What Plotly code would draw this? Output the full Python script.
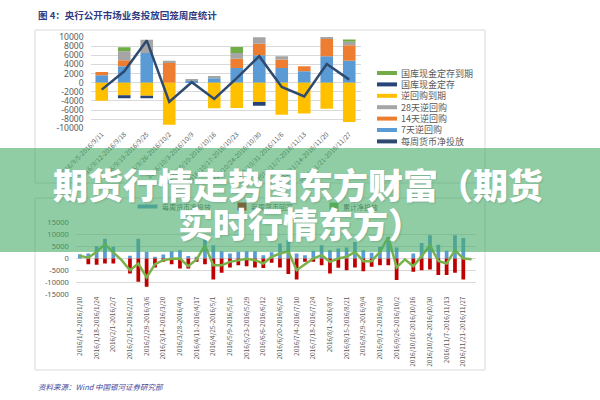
import plotly.graph_objects as go

# ---------------- top chart data ----------------
top_weeks = ["2016/9/5-2016/9/11", "2016/9/12-2016/9/18", "2016/9/19-2016/9/25",
             "2016/9/26-2016/10/2", "2016/10/3-2016/10/9", "2016/10/10-2016/10/16",
             "2016/10/17-2016/10/23", "2016/10/24-2016/10/30", "2016/10/31-2016/11/6",
             "2016/11/7-2016/11/13", "2016/11/14-2016/11/20", "2016/11/21-2016/11/27"]
rr7 = [1600, 3600, 6500, 0, 400, 950, 3200, 6000, 3200, 2500, 5800, 4800]
rr14 = [750, 1300, 0, 4450, 0, 0, 2050, 2500, 1850, 1100, 3800, 3400]
rr28 = [0, 2000, 2900, 350, 300, 500, 1250, 1450, 750, 0, 350, 750]
rr_expire = [-3950, -2770, -2850, -9200, 0, -5600, -5570, -4250, -7030, -6740, -5700, -8640]
tda = [0, -650, -580, 0, 0, 0, 0, -800, 0, 0, 0, 0]
tda_expire = [0, 850, 0, 0, 0, 0, 1300, 0, 0, 0, 0, 500]
top_net = [-1530, 2480, 9250, -4230, 100, -3580, 1000, 5800, -950, -3000, 4100, 660]
top_yticks = [10000, 8000, 6000, 4000, 2000, 0, -2000, -4000, -6000, -8000, -10000]
top_yticklabels = ["10000", "8000", "6000", "4000", "2000", "0", "-2000", "-4000",
                   "-6000", "-8000", "-10000"]

# ---------------- bottom chart data ----------------
weeks = ["2016/1/4-2016/1/10", "2016/1/11-2016/1/17", "2016/1/18-2016/1/24", "2016/1/25-2016/1/31",
         "2016/2/1-2016/2/7", "2016/2/8-2016/2/14", "2016/2/15-2016/2/21", "2016/2/22-2016/2/28",
         "2016/2/29-2016/3/6", "2016/3/7-2016/3/13", "2016/3/14-2016/3/20", "2016/3/21-2016/3/27",
         "2016/3/28-2016/4/3", "2016/4/4-2016/4/10", "2016/4/11-2016/4/17", "2016/4/18-2016/4/24",
         "2016/4/25-2016/5/1", "2016/5/2-2016/5/8", "2016/5/9-2016/5/15", "2016/5/16-2016/5/22",
         "2016/5/23-2016/5/29", "2016/5/30-2016/6/5", "2016/6/6-2016/6/12", "2016/6/13-2016/6/19",
         "2016/6/20-2016/6/26", "2016/6/27-2016/7/3", "2016/7/4-2016/7/10", "2016/7/11-2016/7/17",
         "2016/7/18-2016/7/24", "2016/7/25-2016/7/31", "2016/8/1-2016/8/7", "2016/8/8-2016/8/14",
         "2016/8/15-2016/8/21", "2016/8/22-2016/8/28", "2016/8/29-2016/9/4", "2016/9/5-2016/9/11",
         "2016/9/12-2016/9/18", "2016/9/19-2016/9/25", "2016/9/26-2016/10/2", "2016/10/3-2016/10/9",
         "2016/10/10-2016/10/16", "2016/10/17-2016/10/23", "2016/10/24-2016/10/30", "2016/10/31-2016/11/6",
         "2016/11/7-2016/11/13", "2016/11/14-2016/11/20", "2016/11/21-2016/11/27", "2016/11/28-2016/12/4"]
week_ticks = ["2016/1/4-2016/1/10", "2016/1/18-2016/1/24", "2016/2/1-2016/2/7", "2016/2/15-2016/2/21",
              "2016/2/29-2016/3/6", "2016/3/14-2016/3/20", "2016/3/28-2016/4/3", "2016/4/11-2016/4/17",
              "2016/4/25-2016/5/1", "2016/5/9-2016/5/15", "2016/5/23-2016/5/29", "2016/6/6-2016/6/12",
              "2016/6/20-2016/6/26", "2016/7/4-2016/7/10", "2016/7/18-2016/7/24", "2016/8/1-2016/8/7",
              "2016/8/15-2016/8/21", "2016/8/29-2016/9/4", "2016/9/12-2016/9/18", "2016/9/26-2016/10/2",
              "2016/10/10-2016/10/16", "2016/10/24-2016/10/30", "2016/11/7-2016/11/13", "2016/11/21-2016/11/27"]
inject = [1800, 2100, 5100, 8300, 4900, 0, 1100, 8300, 2800, 700,
          1700, 3000, 3500, 1000, 700, 7900, 5500, 3000, 2100, 2800,
          3000, 3000, 1400, 2600, 6250, 7900, 2100, 1400, 3200, 5500,
          3500, 4200, 4600, 6900, 3500, 2400, 4900, 9000, 4600, 0,
          2100, 6500, 9700, 5800, 3200, 9700, 8600, 0]
withdraw = [0, -2400, -2600, -2100, -2100, 0, -6250, -9700, -11800, -3750,
            -1400, -2400, -4200, -4200, -1400, -2400, -8750, -6000, -3750, -2800,
            -3200, -3750, -4000, -1800, -3750, -6500, -8750, -1400, -1400, -2800,
            -6250, -3900, -4900, -3750, -5300, -3500, -2800, -2800, -9000, 0,
            -5500, -4900, -4600, -6900, -6900, -6000, -8750, 0]
bottom_net = [1100, 300, 2800, 6000, 2500, -700, -4900, -2100, -7900, -2400,
              -700, -150, 0, -3200, -400, 5500, -2800, -2800, -1400, -700,
              -150, -700, -2100, 700, 2100, 3000, -4900, -2400, 0, 1400,
              -1400, 0, 700, 2800, -1100, -1100, 2800, 9000, -3750, -400,
              -3200, 1000, 5500, -1000, -2100, 3500, 0, -300]
bot_yticks = [15000, 10000, 5000, 0, -5000, -10000, -15000]
bot_yticklabels = ["15000", "10000", "5000", "0", "-5000", "-10000", "-15000"]

W, H = 600, 400
def px(x):
    return x / W
def py(y):
    return 1 - y / H

C_BLUE = "#5B9BD5"; C_ORANGE = "#ED7D31"; C_GRAY = "#A5A5A5"; C_YELLOW = "#FFC000"
C_DBLUE = "#264478"; C_GREEN = "#70AD47"; C_NAVY = "#2E4A6E"
TXT = "#595959"; GRID = "#D9D9D9"
FONT = "Noto Sans CJK SC"

fig = go.Figure()
top_series = [("7天逆回购", rr7, C_BLUE), ("14天逆回购", rr14, C_ORANGE),
              ("28天逆回购", rr28, C_GRAY), ("逆回购到期", rr_expire, C_YELLOW),
              ("国库现金定存", tda, C_DBLUE), ("国库现金定存到期", tda_expire, C_GREEN)]
for name, vals, col in top_series:
    fig.add_trace(go.Bar(x=top_weeks, y=vals, name=name, marker_color=col,
                         marker_line_width=0, width=0.56, xaxis="x", yaxis="y"))
fig.add_trace(go.Scatter(x=top_weeks, y=top_net, name="每周货币净投放", mode="lines",
                         line=dict(color=C_NAVY, width=2.5), xaxis="x", yaxis="y"))

fig.add_trace(go.Bar(x=weeks, y=inject, name="投放", marker_color=C_BLUE,
                     marker_line_width=0, width=0.45, xaxis="x2", yaxis="y2"))
fig.add_trace(go.Bar(x=weeks, y=withdraw, name="回笼", marker_color="#C00000",
                     marker_line_width=0, width=0.45, xaxis="x2", yaxis="y2"))
fig.add_trace(go.Scatter(x=weeks, y=bottom_net, name="每周货币净投放", mode="lines",
                         line=dict(color="#7AB24A", width=2.5), xaxis="x2", yaxis="y2"))

axis_common = dict(showline=False, ticks="", zeroline=False, automargin=False)
fig.update_layout(
    width=W, height=H, autosize=False,
    margin=dict(l=0, r=0, t=0, b=0, pad=0, autoexpand=False),
    paper_bgcolor="white", plot_bgcolor="white", showlegend=False,
    barmode="relative", font=dict(family=FONT, color=TXT),
    xaxis=dict(domain=[px(90.5), px(360.5)], anchor="y", type="category", showgrid=False,
               tickangle=-45, tickfont=dict(size=6.5, color=TXT), **axis_common),
    yaxis=dict(domain=[py(128.3), py(37)], anchor="x", range=[-10000, 10000],
               tickvals=top_yticks, ticktext=top_yticklabels, gridcolor=GRID, gridwidth=1,
               tickfont=dict(size=8.5, color=TXT, family="Noto Sans"), ticklabelstandoff=6,
               **axis_common),
    xaxis2=dict(domain=[px(75.8), px(475.8)], anchor="y2", type="category", showgrid=False,
                tickmode="array", tickvals=week_ticks, tickangle=-90,
                tickfont=dict(size=6.5, color=TXT), **axis_common),
    yaxis2=dict(domain=[py(294.3), py(222.7)], anchor="x2", range=[-15000, 15000],
                tickvals=bot_yticks, ticktext=bot_yticklabels, gridcolor=GRID, gridwidth=1,
                tickfont=dict(size=7.5, color=TXT, family="Noto Sans"), ticklabelstandoff=6,
                **axis_common),
)

shapes = [
    dict(type="rect", xref="paper", yref="paper", x0=px(35), x1=px(485), y0=py(183), y1=py(30),
         line=dict(color="#D9D9D9", width=1), layer="below"),
    dict(type="rect", xref="paper", yref="paper", x0=px(35), x1=px(485), y0=py(370), y1=py(198),
         line=dict(color="#D9D9D9", width=1), layer="below"),
]
ann = []
ann.append(dict(xref="paper", yref="paper", x=px(36), y=py(15), xanchor="left", yanchor="middle",
                text="<b>图 4：央行公开市场业务投放回笼周度统计</b>", showarrow=False,
                font=dict(size=9.5, color="#2F3A80", family=FONT)))
ann.append(dict(xref="paper", yref="paper", x=px(36), y=py(386), xanchor="left", yanchor="middle",
                text="资料来源：Wind 中国银河证券研究部", showarrow=False,
                font=dict(size=7.5, color="#4A4A9A", family=FONT, style="italic")))

legend_items = [("国库现金定存到期", C_GREEN), ("国库现金定存", C_DBLUE), ("逆回购到期", C_YELLOW),
                ("28天逆回购", C_GRAY), ("14天逆回购", C_ORANGE), ("7天逆回购", C_BLUE),
                ("每周货币净投放", C_NAVY)]
for k, (name, col) in enumerate(legend_items):
    yc = 73 + k * 11.4
    shapes.append(dict(type="rect", xref="paper", yref="paper", x0=px(377), x1=px(397),
                       y0=py(yc + 2), y1=py(yc - 2), fillcolor=col, line=dict(width=0)))
    ann.append(dict(xref="paper", yref="paper", x=px(399), y=py(yc), xanchor="left",
                    yanchor="middle", text=name, showarrow=False,
                    font=dict(size=9, color=TXT, family=FONT)))

bl_items = [(138, 157, 3, C_BLUE, "每周货币净投放", 160),
            (238, 246, 7, "#C00000", "每周货币回笼", 249),
            (330, 338, 7, C_GREEN, "累计净投放", 341)]
for x0, x1, hgt, col, name, tx in bl_items:
    ann.append(dict(xref="paper", yref="paper", x=px((x0 + x1) / 2), y=py(207), text=" ",
                    showarrow=False, width=x1 - x0, height=hgt, bgcolor=col, borderpad=0,
                    xanchor="center", yanchor="middle"))
    ann.append(dict(xref="paper", yref="paper", x=px(tx), y=py(207), xanchor="left",
                    yanchor="middle", text=name, showarrow=False,
                    font=dict(size=7, color=TXT, family=FONT)))

ann.append(dict(xref="paper", yref="paper", x=0.5, y=py(200), xanchor="center", yanchor="middle",
                text=" ", showarrow=False, width=W + 4, height=104, borderpad=0, borderwidth=0,
                bgcolor="rgba(70,172,105,0.6)"))
ann.append(dict(xref="paper", yref="paper", x=px(298), y=py(183), xanchor="center", yanchor="middle",
                text="期货行情走势图东方财富（期货", showarrow=False,
                font=dict(size=35, color="white", family=FONT, weight=900,
                          shadow="1px 1px 2px rgba(0,0,0,0.15)")))
ann.append(dict(xref="paper", yref="paper", x=px(300), y=py(222), xanchor="center", yanchor="middle",
                text="实时行情东方）", showarrow=False,
                font=dict(size=35, color="white", family=FONT, weight=900,
                          shadow="1px 1px 2px rgba(0,0,0,0.15)")))

fig.update_layout(shapes=shapes, annotations=ann)
fig.write_html("out.html")
